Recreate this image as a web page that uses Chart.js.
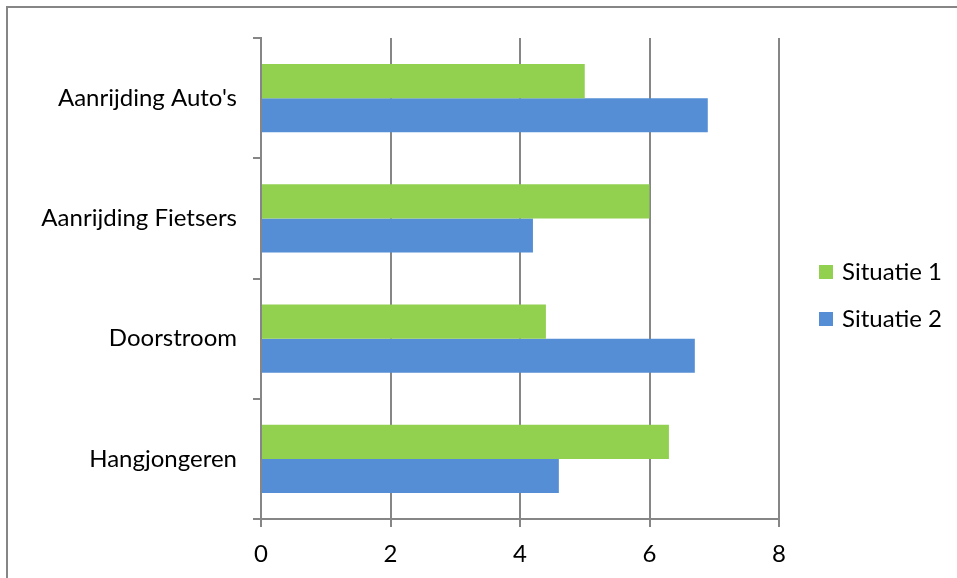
<!DOCTYPE html>
<html>
<head>
<meta charset="utf-8">
<title>Situatie 1 / Situatie 2</title>
<script src="https://cdn.jsdelivr.net/npm/chart.js@4.4.0/dist/chart.umd.min.js"></script>
<style>
    html, body { margin: 0; padding: 0; background: #fff; }
    #wrap { width: 957px; height: 578px; position: relative; }
</style>
</head>
<body>
<div id="wrap"><canvas id="myChart"></canvas></div>
<script>
"use strict";

var categories = ["Aanrijding Auto's", "Aanrijding Fietsers", "Doorstroom", "Hangjongeren"];
var situatie1 = [5, 6, 4.4, 6.3];
var situatie2 = [6.9, 4.2, 6.7, 4.6];
var seriesNames = ["Situatie 1", "Situatie 2"];
var xTicks = [0, 2, 4, 6, 8];

var lineGray = '#868686';
var fontName = "Lato, 'Open Sans', sans-serif";

// outer frame and the legend on the right
var framePlugin = {
    id: 'frame',
    beforeDraw: function(chart) {
        var ctx = chart.ctx;
        ctx.save();
        ctx.fillStyle = '#ffffff';
        ctx.fillRect(0, 0, chart.width, chart.height);
        ctx.strokeStyle = lineGray;
        ctx.lineWidth = 2;
        ctx.beginPath();
        ctx.moveTo(7, chart.height);
        ctx.lineTo(7, 7);
        ctx.lineTo(chart.width, 7);
        ctx.stroke();
        ctx.restore();
    },
    afterDraw: function(chart) {
        var ctx = chart.ctx;
        ctx.save();
        ctx.font = '24px ' + fontName;
        ctx.textBaseline = 'middle';
        ctx.textAlign = 'left';
        var y = 272;
        chart.data.datasets.forEach(function(ds) {
            ctx.fillStyle = ds.backgroundColor;
            ctx.fillRect(819, y - 7, 14, 14);
            ctx.fillStyle = '#000000';
            ctx.fillText(ds.label, 842, y);
            y += 47;
        });
        ctx.restore();
    }
};

var ctx1 = document.getElementById("myChart").getContext('2d');
var myChart = new Chart(ctx1, {
    type: 'bar',
    data: {
        labels: categories,
        datasets: [{
            label: seriesNames[0],
            data: situatie1,
            backgroundColor: '#92D050',
            categoryPercentage: 0.567,
            barPercentage: 1
        }, {
            label: seriesNames[1],
            data: situatie2,
            backgroundColor: '#558ED5',
            categoryPercentage: 0.567,
            barPercentage: 1
        }]
    },
    plugins: [framePlugin],
    options: {
        indexAxis: 'y',
        responsive: true,
        maintainAspectRatio: false,
        animation: false,
        layout: {
            padding: { top: 38, right: 178, left: 0, bottom: 0 }
        },
        plugins: {
            legend: { display: false },
            tooltip: { enabled: false }
        },
        scales: {
            x: {
                min: 0,
                max: 8,
                afterBuildTicks: function(scale) {
                    scale.ticks = xTicks.map(function(v) { return { value: v }; });
                },
                afterFit: function(scale) {
                    scale.height = 59;
                },
                grid: {
                    color: lineGray,
                    lineWidth: 2,
                    tickLength: 8
                },
                border: { color: lineGray, width: 2 },
                ticks: {
                    color: '#000000',
                    padding: 13,
                    font: { family: fontName, size: 24 }
                }
            },
            y: {
                afterFit: function(scale) {
                    scale.width = 261;
                },
                grid: {
                    offset: true,
                    drawOnChartArea: false,
                    color: lineGray,
                    lineWidth: 2,
                    tickLength: 8
                },
                border: { color: lineGray, width: 2 },
                ticks: {
                    color: '#000000',
                    padding: 16,
                    font: { family: fontName, size: 24 }
                }
            }
        }
    }
});
</script>
</body>
</html>
